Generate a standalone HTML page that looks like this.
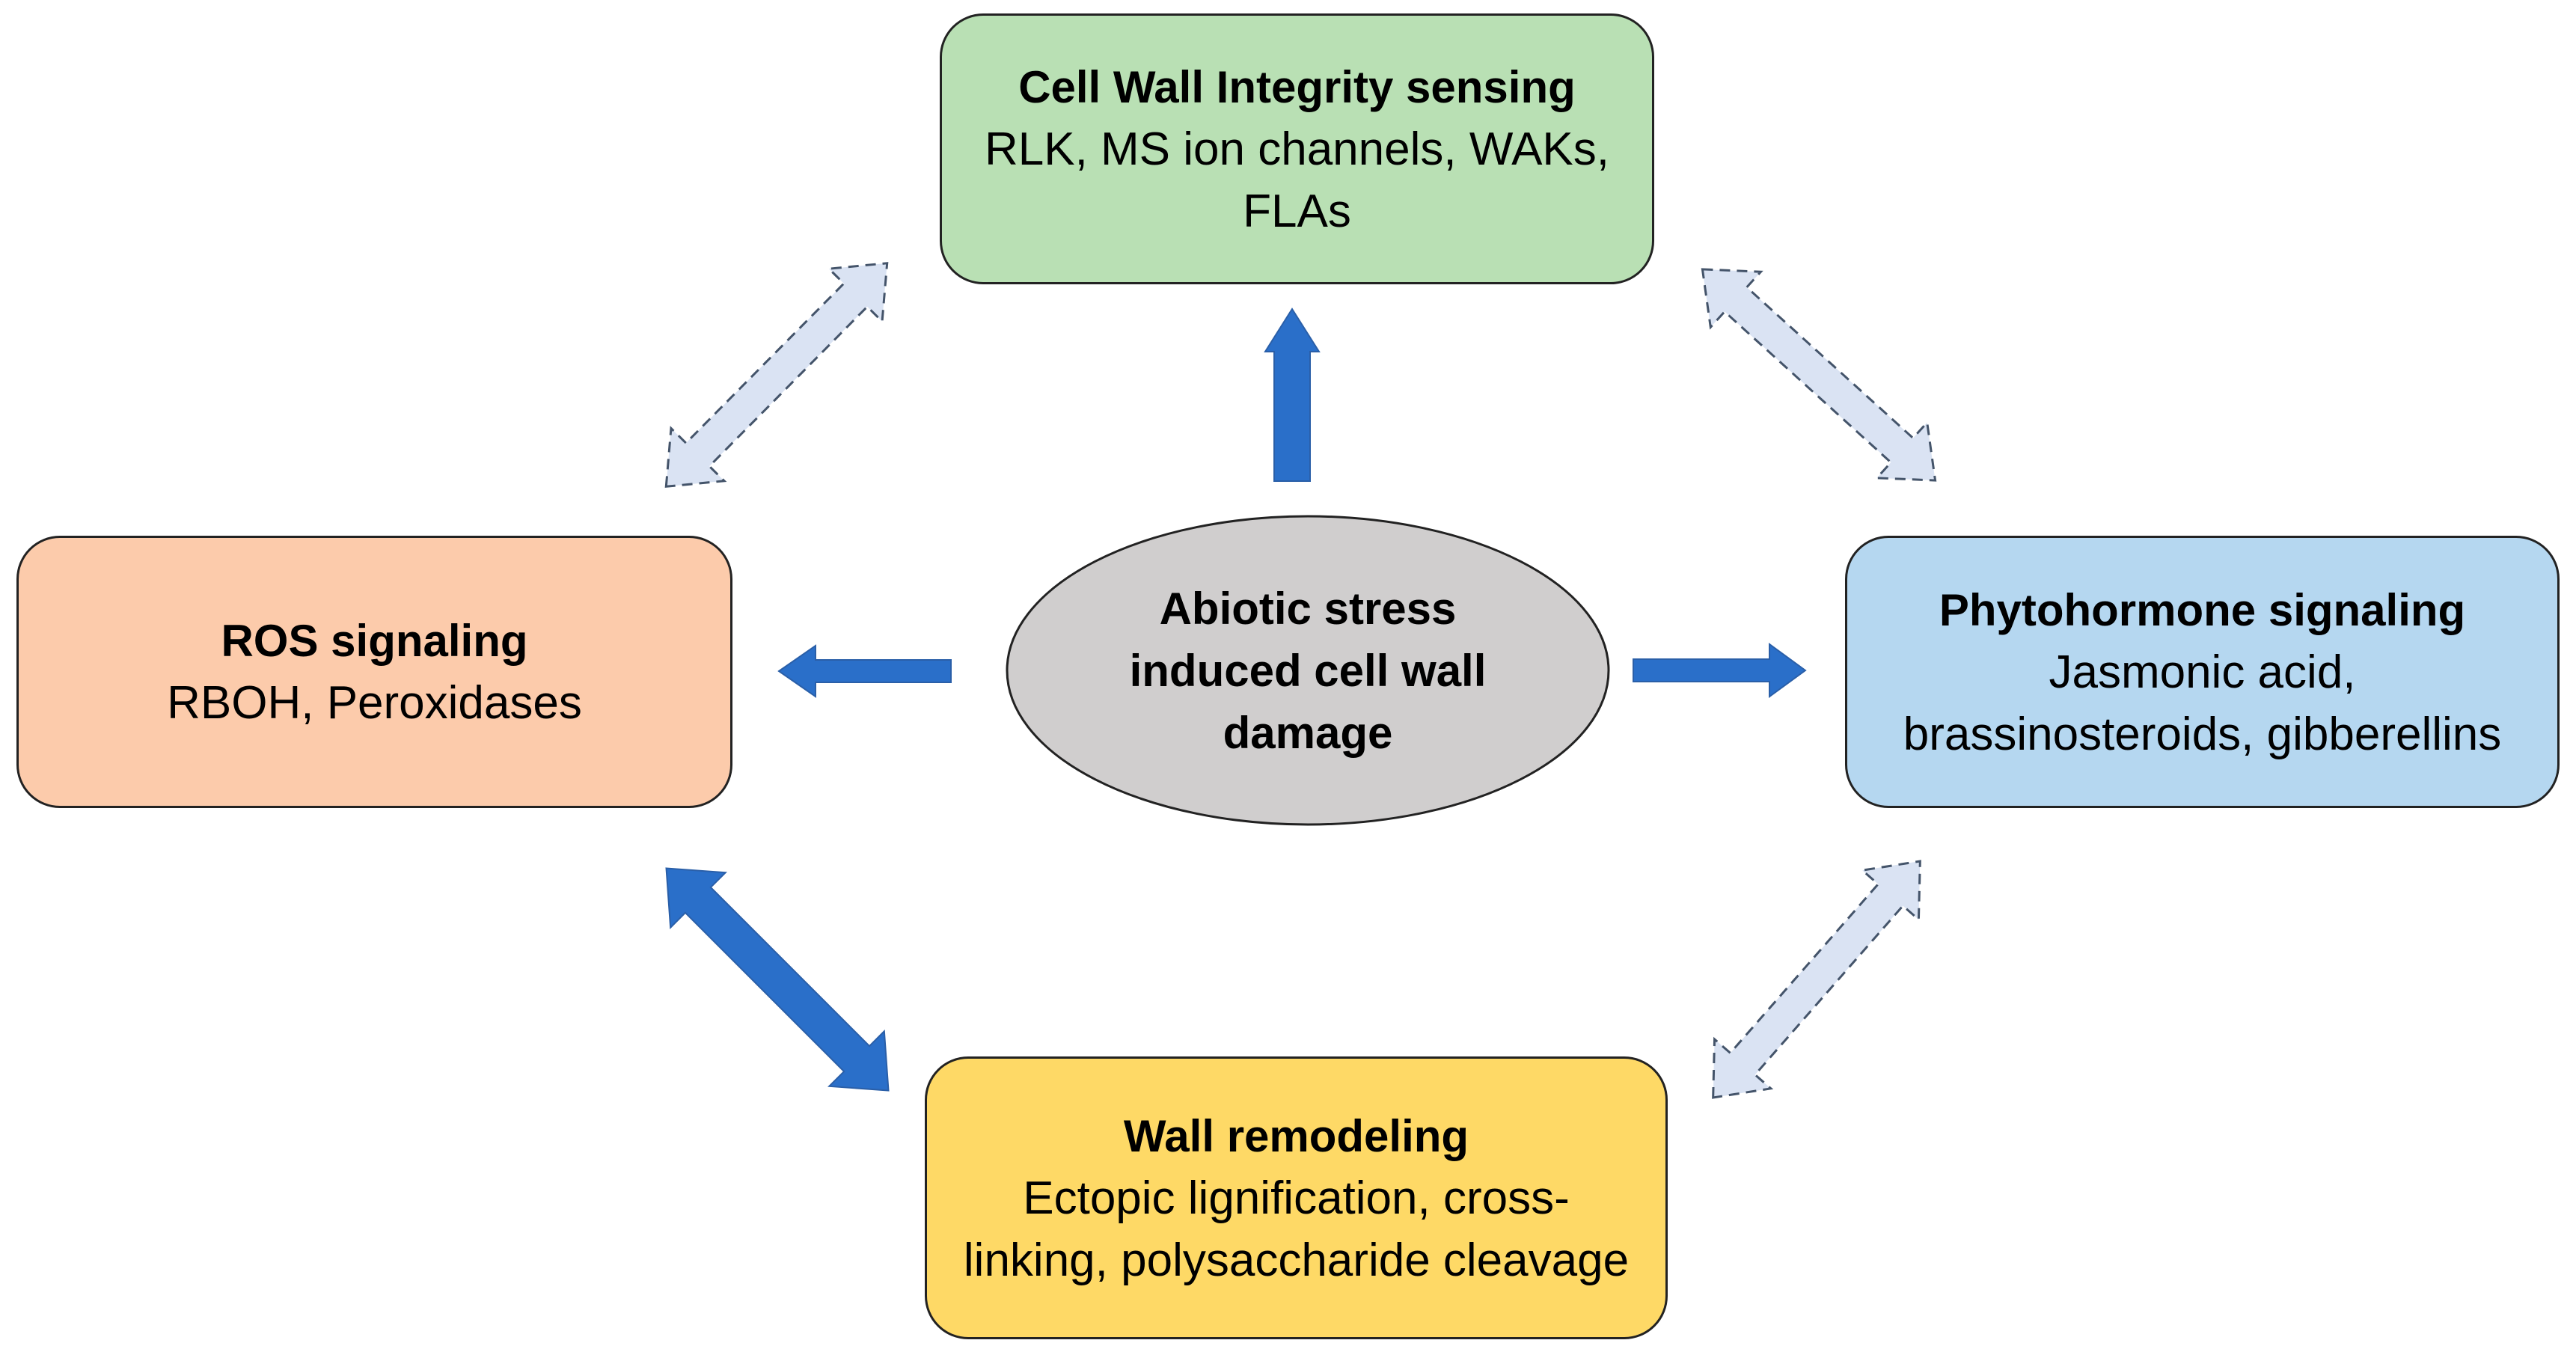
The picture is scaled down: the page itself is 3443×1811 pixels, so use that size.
<!DOCTYPE html>
<html><head><meta charset="utf-8"><style>
body{margin:0;width:3443px;height:1811px;background:#fff;position:relative;overflow:hidden;font-family:"Liberation Sans",sans-serif;}
.b{position:absolute;box-sizing:border-box;border:3px solid #222;border-radius:58px;display:flex;align-items:center;justify-content:center;text-align:center;font-size:62px;line-height:83px;color:#000;white-space:nowrap;}
b{font-weight:bold;font-size:60px;}
svg{position:absolute;left:0;top:0;}
</style></head><body>
<svg width="3443" height="1811">
<ellipse cx="1748" cy="896" rx="402" ry="206" fill="#d0cece" stroke="#222" stroke-width="3"/>
<g fill="#2a6fc9" stroke="#2a5fa8" stroke-width="2">
<polygon points="1727,413 1763,470 1751,470 1751,643 1703,643 1703,470 1691,470"/>
<polygon points="1041,897 1090,863 1090,882 1271,882 1271,912 1090,912 1090,931"/>
<polygon points="2413,896 2365,861 2365,881 2183,881 2183,911 2365,911 2365,931"/>
<g transform="translate(1039,1309) rotate(45)"><polygon points="-210,0 -150,-52 -150,-24 150,-24 150,-52 210,0 150,52 150,24 -150,24 -150,52"/></g>
</g>
<g fill="#dae3f3" stroke="#44546a" stroke-width="3" stroke-dasharray="14,9">
<g transform="translate(1038,501) rotate(-45.3)"><polygon points="-210,0 -150,-50 -150,-22 150,-22 150,-50 210,0 150,50 150,22 -150,22 -150,50"/></g>
<g transform="translate(2431,501) rotate(42.2)"><polygon points="-210,0 -150,-50 -150,-22 150,-22 150,-50 210,0 150,50 150,22 -150,22 -150,50"/></g>
<g transform="translate(2428,1309) rotate(-48.8)"><polygon points="-210,0 -150,-50 -150,-22 150,-22 150,-50 210,0 150,50 150,22 -150,22 -150,50"/></g>
</g>
</svg>
<div class="b" style="left:1256px;top:18px;width:955px;height:362px;background:#b9e0b4;"><div><b>Cell Wall Integrity sensing</b><br>RLK, MS ion channels, WAKs,<br>FLAs</div></div>
<div class="b" style="left:22px;top:716px;width:957px;height:364px;background:#fccbab;"><div><b>ROS signaling</b><br>RBOH, Peroxidases</div></div>
<div class="b" style="left:2466px;top:716px;width:955px;height:364px;background:#b5d7f0;"><div><b>Phytohormone signaling</b><br>Jasmonic acid,<br>brassinosteroids, gibberellins</div></div>
<div class="b" style="left:1236px;top:1412px;width:993px;height:378px;background:#fed966;"><div><b>Wall remodeling</b><br>Ectopic lignification, cross-<br>linking, polysaccharide cleavage</div></div>
<div class="b" style="left:1346px;top:690px;width:804px;height:412px;border:none;background:none;"><div><b>Abiotic stress<br>induced cell wall<br>damage</b></div></div>
</body></html>
